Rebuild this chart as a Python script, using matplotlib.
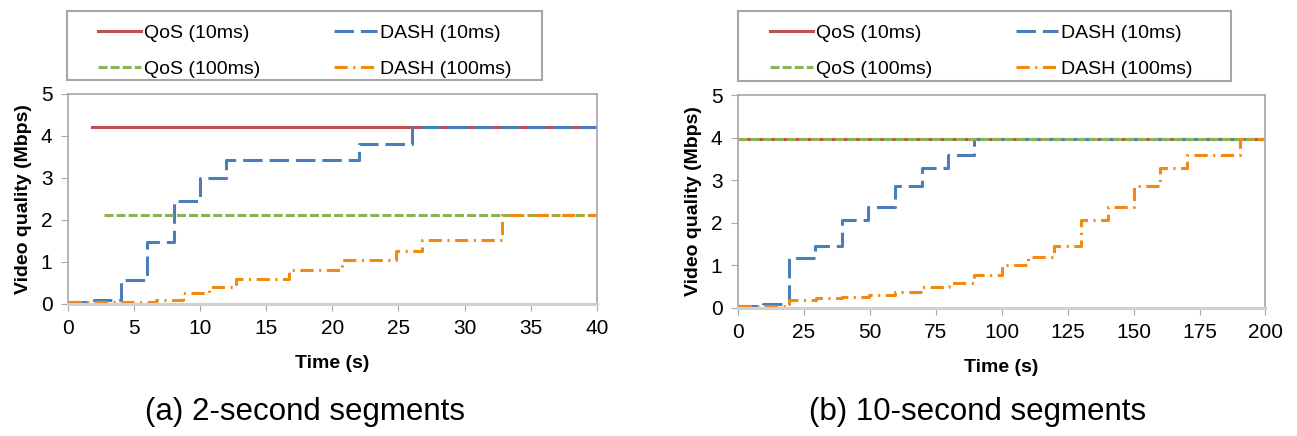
import matplotlib
matplotlib.use("Agg")
import matplotlib.pyplot as plt
from matplotlib.lines import Line2D
from matplotlib.patches import Rectangle

plt.rcParams['font.family'] = ['Liberation Sans', 'DejaVu Sans']
plt.rcParams['lines.scale_dashes'] = False

# panel (a): 2-second segments
a_qos10_t = [1.8, 40]
a_qos10_q = [4.22, 4.22]
a_qos100_t = [2.74, 40]
a_qos100_q = [2.13, 2.13]
a_dash10_t = [0, 2, 4, 6, 8, 10, 12, 22, 26, 40]
a_dash10_q = [0.04, 0.09, 0.58, 1.48, 2.44, 2.99, 3.43, 3.81, 4.22, 4.22]
a_dash100_t = [0, 6.7, 8.7, 10.7, 12.7, 16.7, 20.7, 24.8, 26.8, 32.8, 40]
a_dash100_q = [0.05, 0.1, 0.25, 0.4, 0.6, 0.81, 1.05, 1.25, 1.52, 2.13, 2.13]

# panel (b): 10-second segments
b_qos10_t = [0, 200]
b_qos10_q = [3.97, 3.97]
b_qos100_t = [0, 200]
b_qos100_q = [3.97, 3.97]
b_dash10_t = [0, 9.5, 19.3, 29.4, 39.4, 49.5, 59.6, 69.7, 79.7, 89.7, 200]
b_dash10_q = [0.03, 0.08, 1.16, 1.44, 2.06, 2.36, 2.87, 3.29, 3.59, 3.97, 3.97]
b_dash100_t = [0, 19.5, 29.6, 39.7, 49.6, 59.7, 69.7, 80, 89.7, 100, 110, 120,
               130.1, 140.2, 150.1, 160.1, 170.2, 190.4, 200]
b_dash100_q = [0.03, 0.18, 0.22, 0.26, 0.3, 0.36, 0.49, 0.57, 0.77, 1.0, 1.18, 1.45,
               2.06, 2.36, 2.86, 3.29, 3.6, 3.97, 3.97]

labels = ["QoS (10ms)", "QoS (100ms)", "DASH (10ms)", "DASH (100ms)"]

RED = '#C0504D'
BLUE = '#4A7EBB'
GREEN = '#8DB255'
ORANGE = '#F28A12'
GREY = '#A6A6A6'
LW = 2.2

styles = [
    dict(color=RED, lw=LW, linestyle='-'),
    dict(color=GREEN, lw=LW, linestyle=(0, (6.5, 2.2))),
    dict(color=BLUE, lw=LW, linestyle=(0, (14, 5))),
    dict(color=ORANGE, lw=LW, linestyle=(0, (9.5, 4, 1.5, 4))),
]

fig = plt.figure(figsize=(12.97, 4.36), dpi=100)


def panel(rect, data, xmax, xstep, caption, cap_x, box, leg_anchor, colsp):
    ax = fig.add_axes(rect)
    qos10, qos100, dash10, dash100 = data
    # draw order: red, blue, green, orange
    ax.plot(*qos10, **styles[0], drawstyle='steps-post')
    ax.plot(*dash10, **styles[2], drawstyle='steps-post')
    ax.plot(*qos100, **styles[1], drawstyle='steps-post')
    ax.plot(*dash100, **styles[3], drawstyle='steps-post')
    ax.set_xlim(0, xmax)
    ax.set_ylim(0, 5)
    ax.set_xticks(range(0, xmax + 1, xstep))
    ax.set_yticks(range(0, 6))
    ax.tick_params(direction='out', length=5, color=GREY, labelsize=15, pad=6)
    for s in ['top', 'right', 'left']:
        ax.spines[s].set_color(GREY)
        ax.spines[s].set_linewidth(1.2)
    ax.spines['bottom'].set_color('#D0D0D0')
    ax.spines['bottom'].set_linewidth(2.2)
    ax.set_xlabel("Time (s)", fontsize=14, fontweight='bold', labelpad=12)
    ax.set_ylabel("Video quality (Mbps)", fontsize=14, fontweight='bold', labelpad=6)
    fig.text(cap_x, 0.055, caption, fontsize=22.5, ha='center', va='center')

    # legend frame drawn separately so the box matches the original size
    fig.add_artist(Rectangle(box[:2], box[2], box[3], transform=fig.transFigure,
                             facecolor='white', edgecolor=GREY, lw=1.5))
    handles = [Line2D([], [], **st) for st in styles]
    fig.legend(handles, labels, ncol=2, bbox_to_anchor=leg_anchor, loc='upper left',
               fontsize=14, frameon=False, handlelength=2.2, handletextpad=0.15,
               borderpad=0, labelspacing=0.95, columnspacing=colsp, borderaxespad=0)
    return ax


panel([0.0522, 0.3028, 0.408, 0.4817],
      [(a_qos10_t, a_qos10_q), (a_qos100_t, a_qos100_q),
       (a_dash10_t, a_dash10_q), (a_dash100_t, a_dash100_q)],
      40, 5, "(a) 2-second segments", 0.235,
      (0.0519, 0.8165, 0.3662, 0.159), (0.0758, 0.944), 3.8)

panel([0.5688, 0.2943, 0.4069, 0.4878],
      [(b_qos10_t, b_qos10_q), (b_qos100_t, b_qos100_q),
       (b_dash10_t, b_dash10_q), (b_dash100_t, b_dash100_q)],
      200, 25, "(b) 10-second segments", 0.754,
      (0.5692, 0.8142, 0.3797, 0.1606), (0.5937, 0.944), 4.3)

fig.savefig("out.png", dpi=100)
